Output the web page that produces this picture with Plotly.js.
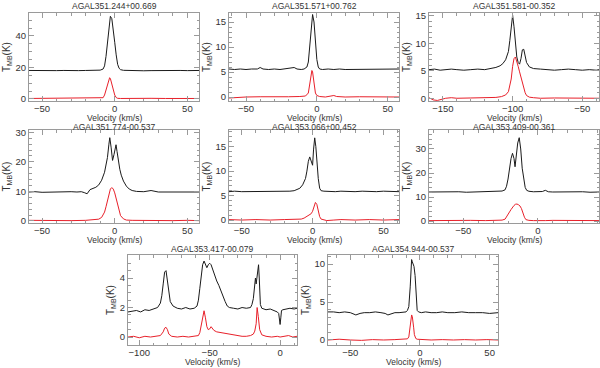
<!DOCTYPE html>
<html>
<head>
<meta charset="utf-8">
<script src="https://cdn.plot.ly/plotly-3.0.1.min.js"></script>
<style>
  html, body { margin: 0; padding: 0; background: #fff; }
  #chart { width: 600px; height: 368px; }
</style>
</head>
<body>
<div id="chart"></div>
<script>
// source names, one per panel
var sourceNames = ['AGAL351.244+00.669', 'AGAL351.571+00.762', 'AGAL351.581-00.352',
                   'AGAL351.774-00.537', 'AGAL353.066+00.452', 'AGAL353.409-00.361',
                   'AGAL353.417-00.079', 'AGAL354.944-00.537'];

// panel 1
var v1 = [-59,-55,-50,-45,-40,-35,-30,-25,-20,-16,-13,-10,-8,-7,-6,-5,-4,-3,-2,-1,0,1,2,3,4,6,8,12,16,20,25,30,35,40,45,50,55,58];
var t1 = [18.1,18.0,18.2,17.9,18.0,18.1,17.9,18.0,18.1,18.2,18.2,18.3,19,21,27,37,47,52.5,51,45,36,28,22,19.5,18.6,18.2,18.1,18.0,18.1,17.9,18.0,18.1,18.0,17.9,18.1,18.0,18.0,18.1];
var v1r = [-59,-50,-40,-30,-20,-14,-10,-8,-7,-6,-5,-4,-3.5,-3,-2,-1,0,1,2,4,8,15,25,35,45,58];
var t1r = [0.3,0.4,0.3,0.4,0.3,0.4,0.4,0.8,2.5,5.5,9,12.5,13.5,13,9,5.5,2.5,0.9,0.4,0.3,0.4,0.3,0.4,0.3,0.4,0.3];

// panel 2
var v2 = [-62,-58,-54,-50,-46,-42,-40,-38,-34,-30,-26,-22,-18,-16,-14,-11,-9,-7,-6,-5,-4,-3,-2,-1,0,1,2,4,8,12,16,20,25,30,35,40,45,50,55,58];
var t2 = [5.6,5.5,5.6,5.5,5.6,5.6,5.9,5.6,5.5,5.6,5.5,5.6,5.7,5.9,5.6,5.5,5.6,6.0,7.0,10,14.5,16.5,15,11,7.5,6.0,5.6,5.5,5.6,5.5,5.6,5.5,5.5,5.6,5.5,5.6,5.5,5.6,5.5,5.6];
var v2r = [-62,-58,-50,-40,-30,-20,-12,-8,-6,-5,-4,-3.5,-3,-2,-1,0,2,6,10,12,14,20,30,40,50,58];
var t2r = [-0.2,-0.1,0.0,0.05,0.0,0.05,0.1,0.2,0.8,2.5,4.8,5.3,5.0,2.5,0.8,0.3,0.1,0.0,0.1,0.3,0.1,0.0,0.05,0.0,0.05,0.0];

// panel 3
var v3 = [-160,-156,-152,-148,-144,-140,-135,-130,-125,-120,-116,-112,-109,-107,-105,-104,-103,-102,-101,-100,-99,-98,-97,-96,-95,-94,-93,-92,-91,-90,-88,-85,-80,-75,-70,-65,-60,-55,-50,-45,-40,-38];
var t3 = [5.2,5.3,5.1,5.2,5.3,5.2,5.1,5.2,5.3,5.2,5.4,5.6,5.9,6.3,7.0,7.6,8.5,10.5,13.5,15.1,13,9.5,7.5,6.5,6.2,7.2,8.8,8.9,7.5,6.5,5.7,5.4,5.3,5.2,5.1,5.2,5.3,5.2,5.1,5.2,5.1,5.2];
var v3r = [-160,-157,-154,-151,-148,-144,-140,-130,-120,-112,-108,-105,-103,-101,-100,-99,-98,-97,-96,-95,-94,-93,-92,-91,-90,-88,-85,-80,-70,-60,-50,-40,-38];
var t3r = [0.1,-0.3,-0.4,-0.2,0.0,0.1,0.0,0.05,0.1,0.15,0.3,0.6,1.2,3.5,5.8,7.2,7.5,6.8,5.8,4.8,3.8,2.8,1.8,1.0,0.5,0.2,0.1,0.0,0.05,0.0,0.05,0.0,0.0];

// panel 4
var v4 = [-59,-55,-50,-45,-40,-35,-30,-26,-23,-21,-19,-17,-15,-13,-11,-9,-7,-6,-5,-4,-3.4,-2.5,-1.5,-0.5,0.2,0.9,1.6,2.5,3.5,4.5,6,8,10,12,15,20,25,30,35,40,45,50,55,58];
var t4 = [9.8,9.9,9.7,9.8,9.9,9.8,9.9,9.8,9.9,9.6,9.2,10.6,10.9,11.4,12.2,13.8,16.5,18.5,21.5,26,28.2,25,20.5,22.5,25,25.8,23.5,20,17.5,15.5,13.5,11.8,10.8,10.3,10.0,9.9,10.3,9.8,9.8,10,9.8,9.9,9.8,9.8];
var v4r = [-59,-50,-40,-30,-20,-14,-11,-9,-7,-6,-5,-4,-3,-2,-1,0,1,2,3,4,6,8,12,20,30,40,50,58];
var t4r = [0.2,0.1,0.2,0.1,0.2,0.3,0.6,1.2,3,4.8,7,9.3,10.8,11.3,10.8,9.5,7.5,5.2,3.2,1.8,0.7,0.3,0.2,0.1,0.2,0.1,0.2,0.1];

// panel 5
var v5 = [-59,-55,-50,-45,-40,-35,-30,-25,-20,-16,-13,-11,-9,-7,-5,-4,-3,-2,-1,0,0.7,1.5,2.3,3,4,5,6,8,12,16,20,25,30,35,40,45,50,55,61];
var t5 = [5.8,5.9,5.8,5.8,5.9,5.8,5.8,5.9,5.8,5.9,6.0,6.2,6.5,7.2,8.5,10,12,12.9,12,11.2,14.5,16.8,15,12,8.5,6.5,6.0,5.9,5.8,5.8,5.9,5.8,5.8,5.9,5.8,5.8,5.9,5.8,5.8];
var v5r = [-59,-50,-40,-30,-20,-12,-8,-6,-4,-3,-2,-1,0,1,2,3,4,5,6,8,10,15,20,30,40,50,61];
var t5r = [0.1,0.0,0.1,0.0,0.1,0.1,0.2,0.4,0.8,1.0,1.2,1.3,1.8,3.0,3.6,3.2,1.8,0.7,0.2,0.0,-0.1,0.0,0.1,0.0,0.1,0.0,0.1];

// panel 6
var v6 = [-73,-68,-63,-58,-53,-48,-43,-38,-33,-29,-26,-24,-22,-21,-20,-19,-18,-17,-16,-15.3,-14.5,-13.5,-12.5,-11.5,-10.5,-9.5,-8.5,-7.5,-6,-3,0,3,5,7,10,15,20,25,30,35,41];
var t6 = [12.1,12.2,12.0,12.1,12.2,12.0,12.1,12.2,12.1,12.2,12.3,12.5,13,14.5,17.5,22,26,28.2,26,22.6,27,32.5,34.7,30,22,17,14,12.8,12.4,12.2,12.1,12.3,12.8,12.2,12.1,12.2,12.0,12.1,12.2,12.0,12.1];
var v6r = [-73,-65,-55,-45,-35,-28,-24,-22,-20,-19,-18,-17,-16,-15,-14,-13,-12,-11,-10,-9,-8,-6,-3,0,5,10,20,30,41];
var t6r = [0.2,0.3,0.2,0.3,0.2,0.3,0.4,0.8,2.5,3.8,4.8,5.8,6.5,7.0,7.1,6.8,6.3,5.2,3.3,1.6,0.6,0.3,0.2,0.3,0.2,0.3,0.2,0.3,0.2];

// panel 7
var v7 = [-108,-105,-102,-99,-96,-93,-90,-87,-85,-84,-83,-82,-81,-80,-79,-78,-76,-73,-70,-67,-64,-61,-59,-58,-57,-56,-55,-54,-53,-52,-51,-50,-49,-48,-46.5,-45,-43.5,-42,-40.5,-39,-37.5,-36,-33,-30,-27,-24,-21,-20,-19,-18,-17.5,-17,-16,-15.3,-14.8,-14,-13,-10,-7,-4,-2,-1,0,0.5,1,2,4,7,10,12];
var t7 = [1.7,1.75,1.8,1.7,1.85,1.8,1.9,2.0,2.3,2.8,3.6,4.4,4.5,3.9,3.0,2.4,2.1,1.95,1.9,2.0,1.9,1.95,2.1,2.5,3.3,4.3,4.9,5.15,4.9,4.7,4.9,5.0,4.9,4.6,4.2,3.8,3.5,3.1,2.7,2.4,2.1,2.0,1.95,1.9,2.0,1.95,2.0,2.2,2.6,3.3,4.0,3.6,4.2,4.9,4.0,2.2,1.95,1.85,1.9,1.8,1.7,1.6,0.85,1.3,1.8,1.85,1.9,1.95,1.9,1.95];
var v7r = [-108,-104,-100,-96,-92,-88,-85,-83,-82,-81,-80,-79,-77,-73,-69,-65,-61,-58,-57,-56,-55,-54,-53,-52,-51,-50,-49,-48,-47,-45,-42,-39,-36,-33,-30,-27,-24,-21,-19,-18,-17,-16.3,-15.5,-14.5,-13,-10,-6,-2,0,3,6,9,12];
var t7r = [0.0,0.05,-0.05,0.05,0.0,0.05,0.1,0.35,0.6,0.66,0.5,0.2,0.05,0.0,0.05,0.0,0.05,0.1,0.3,0.8,1.5,1.78,1.3,0.7,0.5,0.55,0.7,0.6,0.45,0.35,0.3,0.25,0.15,0.1,0.1,0.05,0.05,0.1,0.2,0.4,0.9,2.0,1.4,0.5,0.15,0.05,0.0,0.05,0.0,0.05,0.1,0.0,0.05];

// panel 8
var v8 = [-66,-62,-58,-54,-50,-48,-46,-43,-40,-36,-32,-28,-25,-23,-21,-18,-15,-12,-10,-9,-8,-7,-6.5,-6,-5.5,-5,-4.3,-3.5,-3,-2.5,-2,-1,1,4,8,12,16,20,25,30,35,40,45,50,56];
var t8 = [3.7,3.7,3.6,3.7,3.6,3.4,3.3,3.5,3.6,3.6,3.7,3.6,3.5,3.3,3.4,3.6,3.6,3.7,3.7,3.9,4.4,7,9.5,10.6,10.3,10,9.7,8.5,6.5,4.6,3.9,3.7,3.6,3.7,3.6,3.6,3.7,3.6,3.6,3.7,3.6,3.6,3.6,3.5,3.6];
var v8r = [-66,-58,-50,-42,-34,-26,-18,-12,-9,-8,-7,-6.5,-6,-5.5,-5,-4.5,-4,-3,-2,2,8,16,24,32,40,48,56];
var t8r = [0.0,0.1,0.0,-0.05,0.05,0.0,0.05,0.1,0.15,0.4,2.0,3.2,3.3,3.1,2.6,1.6,0.7,0.2,0.1,0.05,0.0,0.05,0.0,0.05,0.0,0.05,0.0];

var blackV = [v1, v2, v3, v4, v5, v6, v7, v8];
var blackT = [t1, t2, t3, t4, t5, t6, t7, t8];
var redV = [v1r, v2r, v3r, v4r, v5r, v6r, v7r, v8r];
var redT = [t1r, t2r, t3r, t4r, t5r, t6r, t7r, t8r];

// panel frames in pixels: [left, right, top, bottom]
var W = 600, H = 368;
var frames = [
  [29, 199, 13, 101], [229, 399, 13, 101], [429, 599, 13, 101],
  [29, 199, 130, 223], [229, 399, 130, 223], [429, 599, 130, 223],
  [128, 297, 255, 345], [328, 498, 255, 345]
];
var titleGap = [7, 7, 7, 3.5, 3.5, 3.5, 6, 6];
var xRanges = [[-59, 58], [-62, 58], [-160, -38], [-59, 58], [-59, 61], [-73, 41], [-108, 12], [-66, 56]];
var yRanges = [[-1.3, 54.6], [-0.8, 16.8], [-0.5, 15.5], [-0.7, 30.8], [-0.6, 18.4], [-0.8, 37.9], [-0.54, 5.56], [-0.66, 11.2]];
var yDtick = [20, 5, 5, 10, 5, 10, 2, 5];
var yMinor = [5, 1, 1, 2, 1, 2, 0.5, 1];

var font = 'Liberation Sans, Arial, sans-serif';
var frameColor = '#9a9a9a';
var textColor = '#333';

var data = [];
var layout = {
  width: W, height: H,
  margin: {l: 0, r: 0, t: 0, b: 0},
  paper_bgcolor: '#fff',
  plot_bgcolor: '#fff',
  showlegend: false,
  font: {family: font, size: 9, color: textColor},
  annotations: []
};

for (var i = 0; i < 8; i++) {
  var n = i === 0 ? '' : String(i + 1);
  var f = frames[i];
  var cx = (f[0] + f[1]) / 2 / W;

  data.push({
    x: blackV[i], y: blackT[i], xaxis: 'x' + n, yaxis: 'y' + n,
    type: 'scatter', mode: 'lines',
    line: {color: '#1a1a1a', width: 1},
    hoverinfo: 'skip'
  });
  data.push({
    x: redV[i], y: redT[i], xaxis: 'x' + n, yaxis: 'y' + n,
    type: 'scatter', mode: 'lines',
    line: {color: '#e8202a', width: 1},
    hoverinfo: 'skip'
  });

  layout['xaxis' + n] = {
    domain: [f[0] / W, f[1] / W],
    anchor: 'y' + n,
    range: xRanges[i],
    dtick: 50, tick0: 0,
    ticks: 'inside', ticklen: 5, tickcolor: frameColor,
    ticklabelstandoff: -1,
    minor: {ticks: 'inside', ticklen: 2.5, dtick: 10, tickcolor: frameColor},
    showline: true, linecolor: frameColor, linewidth: 1, mirror: 'ticks',
    showgrid: false, zeroline: false,
    tickfont: {family: font, size: 9.5, color: textColor}
  };
  layout['yaxis' + n] = {
    domain: [1 - f[3] / H, 1 - f[2] / H],
    anchor: 'x' + n,
    range: yRanges[i],
    dtick: yDtick[i], tick0: 0,
    ticks: 'inside', ticklen: 5, tickcolor: frameColor,
    minor: {ticks: 'inside', ticklen: 2.5, dtick: yMinor[i], tickcolor: frameColor},
    showline: true, linecolor: frameColor, linewidth: 1, mirror: 'ticks',
    showgrid: false, zeroline: false,
    tickfont: {family: font, size: 9.5, color: textColor},
    title: {text: 'T<sub>MB</sub>(K)', standoff: 3, font: {family: font, size: 10, color: textColor}}
  };

  // panel title above the frame
  layout.annotations.push({
    text: sourceNames[i],
    xref: 'paper', yref: 'paper',
    x: cx, y: 1 - (f[2] - titleGap[i]) / H,
    xanchor: 'center', yanchor: 'middle',
    showarrow: false,
    font: {family: font, size: 8.5, color: textColor}
  });
  // x axis title below the tick labels
  layout.annotations.push({
    text: 'Velocity (km/s)',
    xref: 'paper', yref: 'paper',
    x: cx, y: 1 - (f[3] + 16.5) / H,
    xanchor: 'center', yanchor: 'middle',
    showarrow: false,
    font: {family: font, size: 8.5, color: textColor}
  });
}

Plotly.newPlot('chart', data, layout, {displayModeBar: false, staticPlot: true});
</script>
</body>
</html>
